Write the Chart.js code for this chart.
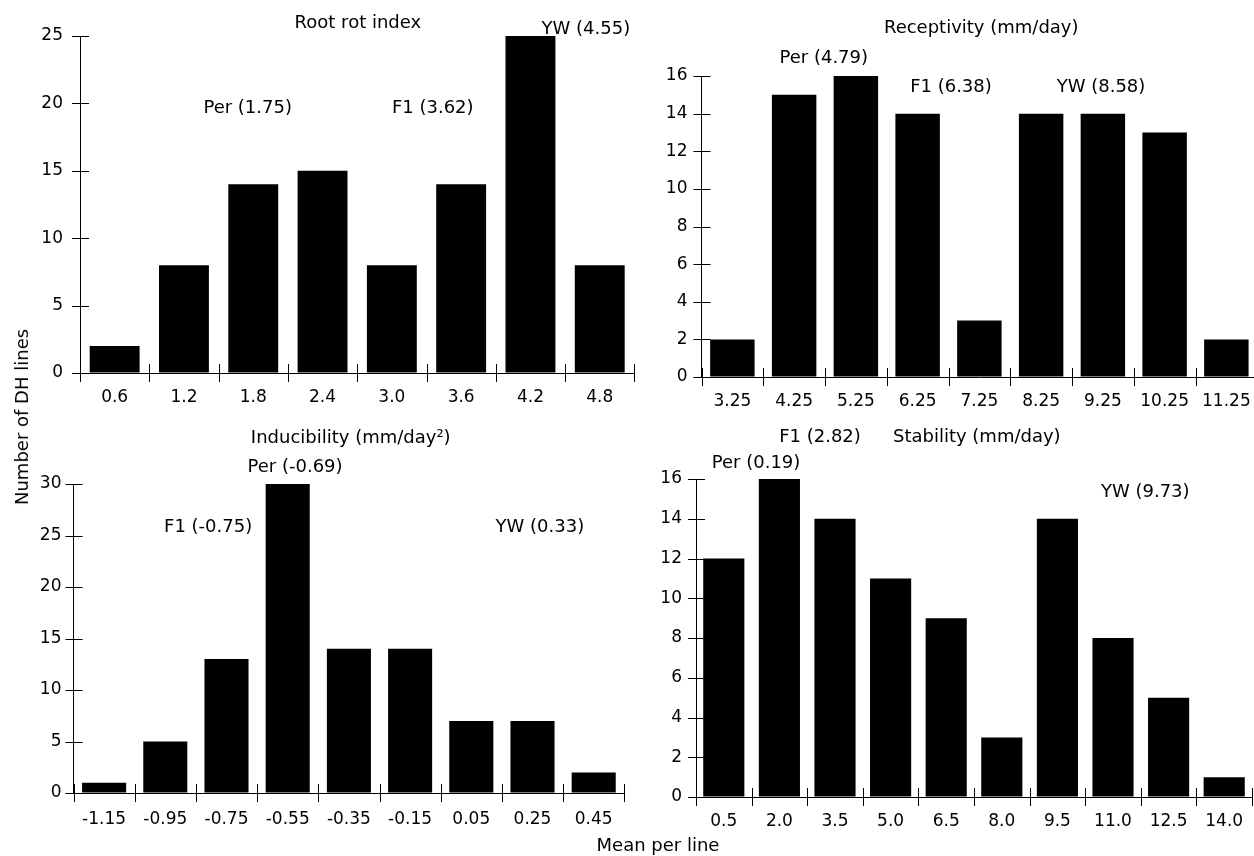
<!DOCTYPE html>
<html>
<head>
<meta charset="utf-8">
<script src="https://cdn.jsdelivr.net/npm/chart.js@4.4.1/dist/chart.umd.min.js"></script>
<style>
  html, body { margin: 0; padding: 0; width: 1254px; height: 856px; overflow: hidden; background: #fff; }
  canvas { position: absolute; left: 0; top: 0; }
  .axis-title { position: absolute; font-family: "DejaVu Sans", sans-serif; font-size: 18px; color: #000; white-space: nowrap; line-height: 1; }
  #ytitle { left: 22px; top: 417px; transform: translate(-50%, -50%) rotate(-90deg); }
  #xtitle { left: 658px; top: 845px; transform: translate(-50%, -50%); }
</style>
</head>
<body>
<canvas id="c1" width="1262" height="856"></canvas>
<canvas id="c2" width="1262" height="856"></canvas>
<canvas id="c3" width="1262" height="856"></canvas>
<canvas id="c4" width="1262" height="856"></canvas>
<div class="axis-title" id="ytitle">Number of DH lines</div>
<div class="axis-title" id="xtitle">Mean per line</div>
<script>
// ---- data ----
const rootRotLabels = ['0.6', '1.2', '1.8', '2.4', '3.0', '3.6', '4.2', '4.8'];
const rootRotCounts = [2, 8, 14, 15, 8, 14, 25, 8];
const rootRotYMax = 25, rootRotYStep = 5;

const receptivityLabels = ['3.25', '4.25', '5.25', '6.25', '7.25', '8.25', '9.25', '10.25', '11.25'];
const receptivityCounts = [2, 15, 16, 14, 3, 14, 14, 13, 2];
const receptivityYMax = 16, receptivityYStep = 2;

const inducibilityLabels = ['-1.15', '-0.95', '-0.75', '-0.55', '-0.35', '-0.15', '0.05', '0.25', '0.45'];
const inducibilityCounts = [1, 5, 13, 30, 14, 14, 7, 7, 2];
const inducibilityYMax = 30, inducibilityYStep = 5;

const stabilityLabels = ['0.5', '2.0', '3.5', '5.0', '6.5', '8.0', '9.5', '11.0', '12.5', '14.0'];
const stabilityCounts = [12, 16, 14, 11, 9, 3, 14, 8, 5, 1];
const stabilityYMax = 16, stabilityYStep = 2;

const panelTitles = ['Root rot index', 'Receptivity (mm/day)', 'Inducibility (mm/day\u00B2)', 'Stability (mm/day)'];
const rootRotNotes = ['Per (1.75)', 'F1 (3.62)', 'YW (4.55)'];
const receptivityNotes = ['Per (4.79)', 'F1 (6.38)', 'YW (8.58)'];
const inducibilityNotes = ['Per (-0.69)', 'F1 (-0.75)', 'YW (0.33)'];
const stabilityNotes = ['Per (0.19)', 'F1 (2.82)', 'YW (9.73)'];

// ---- styling ----
Chart.defaults.font.family = '"DejaVu Sans", sans-serif';
Chart.defaults.font.size = 17;
Chart.defaults.color = '#000';

function makePlugin(texts) {
  return {
    id: 'crossTicksAndNotes',
    afterDraw(chart) {
      const { ctx, chartArea: a, scales } = chart;
      const x = scales.x, y = scales.y;
      ctx.save();
      ctx.strokeStyle = '#000';
      ctx.lineWidth = 1;
      ctx.beginPath();
      y.ticks.forEach(t => {
        const py = Math.round(y.getPixelForValue(t.value)) + 0.5;
        ctx.moveTo(a.left - 8, py);
        ctx.lineTo(a.left + 9, py);
      });
      const n = x.ticks.length;
      for (let i = 0; i <= n; i++) {
        const px = Math.round(x.getPixelForValue(i - 0.5)) + 0.5;
        ctx.moveTo(px, a.bottom - 9);
        ctx.lineTo(px, a.bottom + 9);
      }
      ctx.stroke();
      ctx.fillStyle = '#000';
      ctx.textAlign = 'center';
      ctx.textBaseline = 'middle';
      ctx.font = '18px "DejaVu Sans", sans-serif';
      texts.forEach(t => {
        ctx.fillText(t.text, x.getPixelForValue(t.at[0]), y.getPixelForValue(t.at[1]));
      });
      ctx.restore();
    }
  };
}

function makeChart(id, labels, counts, yMax, yStep, pad, barPct, yLabelPad, xLabelPad, texts) {
  return new Chart(document.getElementById(id), {
    type: 'bar',
    data: {
      labels: labels,
      datasets: [{
        data: counts,
        backgroundColor: '#000',
        borderWidth: 0,
        barPercentage: barPct,
        categoryPercentage: 1.0
      }]
    },
    options: {
      responsive: false,
      animation: false,
      devicePixelRatio: 1,
      layout: { padding: pad },
      plugins: { legend: { display: false }, tooltip: { enabled: false }, title: { display: false } },
      scales: {
        x: {
          type: 'category',
          offset: true,
          grid: { display: true, drawOnChartArea: false, drawTicks: true, tickLength: 8, color: 'rgba(0,0,0,0)' },
          border: { display: true, color: '#000', width: 1 },
          ticks: { autoSkip: false, maxRotation: 0, minRotation: 0, padding: xLabelPad, color: '#000', font: { size: 17 } },
          afterFit: s => { s.height = 40; }
        },
        y: {
          min: 0,
          max: yMax,
          grid: { display: true, drawOnChartArea: false, drawTicks: true, tickLength: 8, color: 'rgba(0,0,0,0)' },
          border: { display: true, color: '#000', width: 1 },
          ticks: { stepSize: yStep, padding: yLabelPad, color: '#000', font: { size: 17 } },
          afterFit: s => { s.width = 60; }
        }
      }
    },
    plugins: [makePlugin(texts)]
  });
}

makeChart('c1', rootRotLabels, rootRotCounts, rootRotYMax, rootRotYStep,
  { left: 20, right: 627.6, top: 36, bottom: 443 }, 0.72, 9, 6, [
    { text: panelTitles[0], at: [3.51, 25.96] },
    { text: rootRotNotes[0], at: [1.92, 19.66] },
    { text: rootRotNotes[1], at: [4.59, 19.66] },
    { text: rootRotNotes[2], at: [6.80, 25.52] }
  ]);

makeChart('c2', receptivityLabels, receptivityCounts, receptivityYMax, receptivityYStep,
  { left: 641.5, right: 4.75, top: 76, bottom: 439 }, 0.72, 6, 6, [
    { text: panelTitles[1], at: [4.03, 18.55] },
    { text: receptivityNotes[0], at: [1.48, 16.96] },
    { text: receptivityNotes[1], at: [3.54, 15.41] },
    { text: receptivityNotes[2], at: [5.97, 15.41] }
  ]);

makeChart('c3', inducibilityLabels, inducibilityCounts, inducibilityYMax, inducibilityYStep,
  { left: 13.5, right: 637.7, top: 484, bottom: 23 }, 0.72, 4, 8, [
    { text: panelTitles[2], at: [4.03, 34.47] },
    { text: inducibilityNotes[0], at: [3.12, 31.65] },
    { text: inducibilityNotes[1], at: [1.70, 25.83] },
    { text: inducibilityNotes[2], at: [7.12, 25.83] }
  ]);

makeChart('c4', stabilityLabels, stabilityCounts, stabilityYMax, stabilityYStep,
  { left: 636, right: 10, top: 479, bottom: 19 }, 0.74, 6, 6, [
    { text: panelTitles[3], at: [4.55, 18.11] },
    { text: stabilityNotes[0], at: [0.58, 16.81] },
    { text: stabilityNotes[1], at: [1.73, 18.11] },
    { text: stabilityNotes[2], at: [7.58, 15.35] }
  ]);
</script>
</body>
</html>
